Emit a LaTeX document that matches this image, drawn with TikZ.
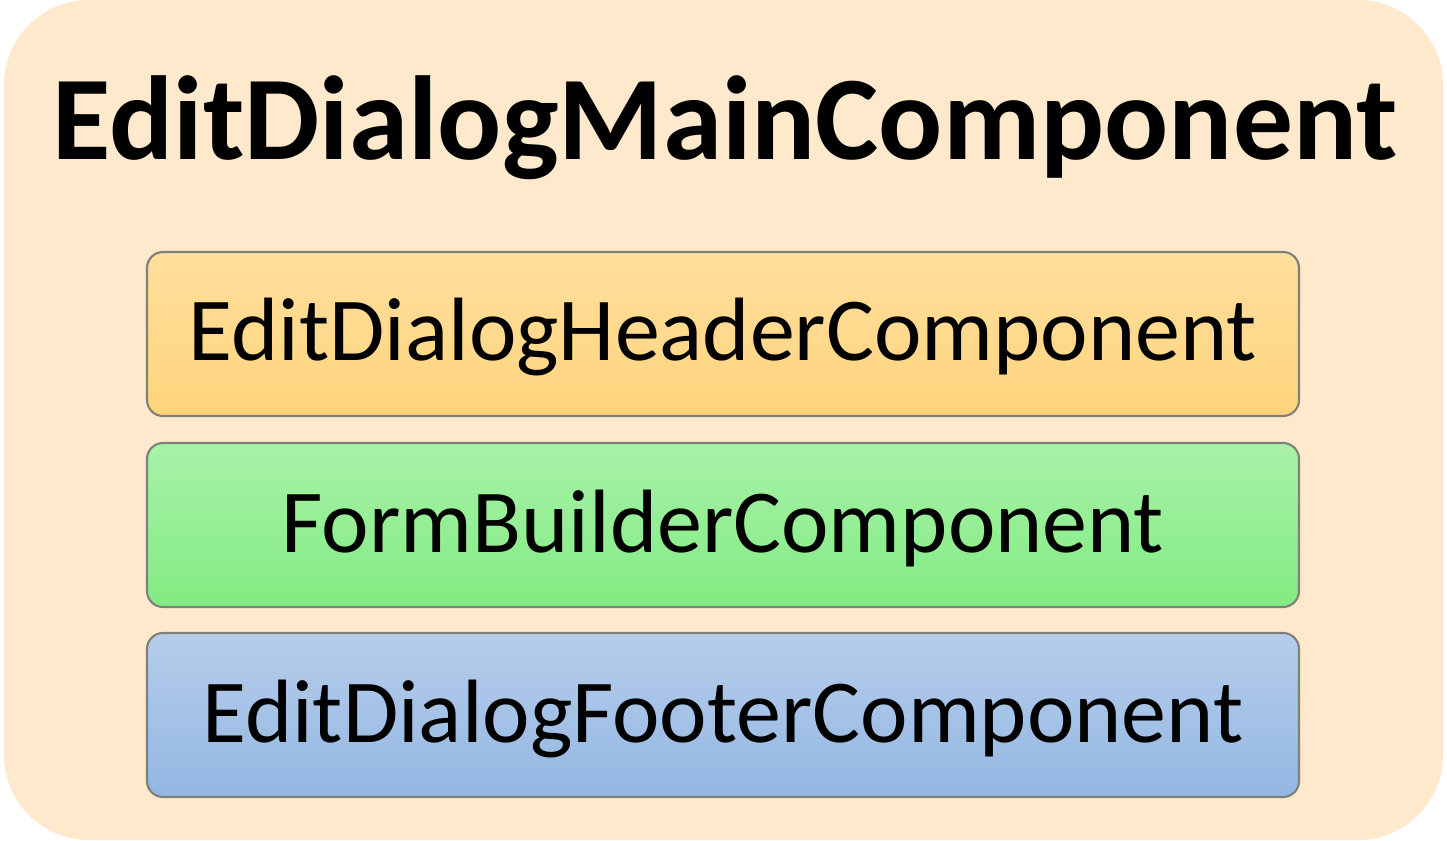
\documentclass[tikz,border=0pt]{standalone}
\usepackage{fontspec}
\setmainfont{Carlito}
\usepackage{xcolor}
\definecolor{mainbg}{HTML}{FFE9CD}
\definecolor{headtop}{HTML}{FFDF9E}
\definecolor{headbot}{HTML}{FFD47C}
\definecolor{formtop}{HTML}{A8F2A8}
\definecolor{formbot}{HTML}{82EB82}
\definecolor{foottop}{HTML}{B6CDEB}
\definecolor{footbot}{HTML}{94B7E3}
\definecolor{boxline}{HTML}{80807A}

\begin{document}
\begin{tikzpicture}[
	partbox/.style={draw=boxline,line width=0.6pt,rounded corners=0.16cm,minimum width=11.52cm,minimum height=1.64cm},
	parttext/.style={font=\fontsize{25.6}{30}\selectfont},
	]
	\useasboundingbox (0,0) rectangle (14.47,8.40);
	\fill[mainbg,rounded corners=0.85cm] (0.04,0) rectangle (14.43,8.40);

	\node[font=\bfseries\fontsize{34}{40}\selectfont,anchor=base] (title) at (7.25,6.80) {EditDialogMainComponent};

	\node[partbox,top color=headtop,bottom color=headbot] (header) at (7.23,5.06) {};
	\node[partbox,top color=formtop,bottom color=formbot] (form) at (7.23,3.15) {};
	\node[partbox,top color=foottop,bottom color=footbot] (footer) at (7.23,1.25) {};

	\node[parttext,anchor=base] (headerlabel) at (header.center) [yshift=-0.27cm] {EditDialogHeaderComponent};
	\node[parttext,anchor=base] (formlabel) at (form.center) [yshift=-0.27cm] {FormBuilderComponent};
	\node[parttext,anchor=base] (footerlabel) at (footer.center) [yshift=-0.27cm] {EditDialogFooterComponent};
\end{tikzpicture}
\end{document}
